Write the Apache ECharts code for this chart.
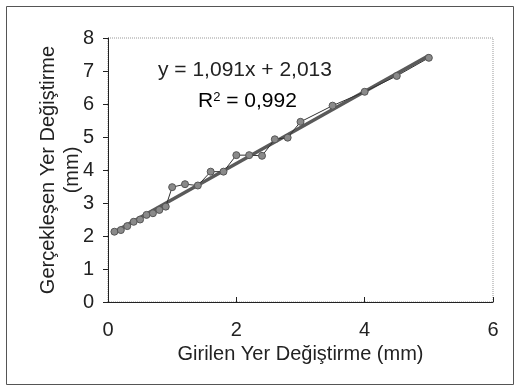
<!DOCTYPE html>
<html><head><meta charset="utf-8">
<script src="https://cdn.jsdelivr.net/npm/echarts@6/dist/echarts.min.js"></script>
<style>html,body{margin:0;padding:0;background:#fff}#c{width:515px;height:387px}</style>
</head><body><div id="c"></div>
<script>
// Data
const inputX = [0.1, 0.2, 0.3, 0.4, 0.5, 0.6, 0.7, 0.8, 0.9, 1.0, 1.2, 1.4, 1.6, 1.8, 2.0, 2.2, 2.4, 2.6, 2.8, 3.0, 3.5, 4.0, 4.5, 5.0];
const measuredY = [2.13, 2.18, 2.3, 2.43, 2.5, 2.64, 2.69, 2.79, 2.89, 3.48, 3.57, 3.53, 3.95, 3.95, 4.45, 4.45, 4.43, 4.93, 4.98, 5.46, 5.95, 6.37, 6.85, 7.4];
const trendX = [0.1, 5.0];
const trendY = [2.12, 7.47];
const xTicks = [0, 2, 4, 6];
const yTicks = [0, 1, 2, 3, 4, 5, 6, 7, 8];
const equationText = 'y = 1,091x + 2,013';
const r2Text = '0,992';

const FONT = 'Liberation Sans, Arial, sans-serif';
const chart = echarts.init(document.getElementById('c'), null, {renderer: 'canvas'});
chart.setOption({
  animation: false,
  backgroundColor: '#fff',
  grid: {left: 108, right: 22, top: 38, bottom: 85, show: true, borderColor: '#999', borderWidth: 1, borderType: 'dotted', backgroundColor: 'transparent'},
  xAxis: {
    type: 'value', min: 0, max: 6, interval: 2,
    name: 'Girilen Yer Değiştirme (mm)', nameLocation: 'middle', nameGap: 42, nameMoveOverlap: false,
    nameTextStyle: {fontFamily: FONT, fontSize: 20, color: '#222'},
    axisLine: {show: true, lineStyle: {color: '#222', width: 1}},
    axisTick: {show: true, inside: true, length: 5, lineStyle: {color: '#222'}},
    axisLabel: {fontFamily: FONT, fontSize: 20, color: '#222', margin: 18, formatter: v => xTicks.includes(v) ? String(v) : ''},
    splitLine: {show: false}
  },
  yAxis: {
    type: 'value', min: 0, max: 8, interval: 1,
    name: 'Gerçekleşen Yer Değiştirme\n(mm)', nameLocation: 'middle', nameGap: 24, nameRotate: 90, nameMoveOverlap: false,
    nameTextStyle: {fontFamily: FONT, fontSize: 20, color: '#222', lineHeight: 24, align: 'center'},
    axisLine: {show: true, lineStyle: {color: '#222', width: 1}},
    axisTick: {show: true, length: 5, lineStyle: {color: '#222'}},
    axisLabel: {fontFamily: FONT, fontSize: 20, color: '#222', margin: 14, formatter: v => yTicks.includes(v) ? String(v) : ''},
    splitLine: {show: false}
  },
  graphic: [
    {type: 'text', left: 158, top: 60, style: {text: equationText, font: '21px ' + FONT, fill: '#222'}},
    {type: 'text', left: 198, top: 91, style: {text: '{a|R}{s|2}{a| = ' + r2Text + '}', rich: {a: {font: '21px ' + FONT, color: '#222'}, s: {font: '13px ' + FONT, color: '#222', verticalAlign: 'top', padding: [0,0,8,0]}}}},
    {type: 'rect', left: 4, top: 4, shape: {width: 507, height: 378}, style: {fill: 'none', stroke: '#555', lineWidth: 1}, silent: true}
  ],
  series: [
    {type: 'line', data: trendX.map((x, i) => [x, trendY[i]]), showSymbol: false, symbol: 'none', lineStyle: {color: '#5a5a5a', width: 3.5}, z: 2},
    {type: 'line', data: inputX.map((x, i) => [x, measuredY[i]]), symbol: 'circle', symbolSize: 7, showSymbol: true,
      lineStyle: {color: '#333', width: 1}, itemStyle: {color: '#8a8a8a', borderColor: '#555', borderWidth: 1}, z: 3}
  ]
});
</script></body></html>
